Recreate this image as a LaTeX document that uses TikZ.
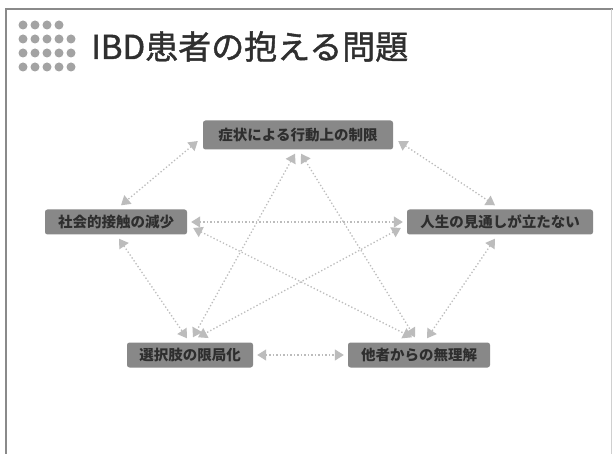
\documentclass[tikz,border=0pt]{standalone}
\usepackage{fontspec}
\newfontfamily\jp{Noto Sans CJK JP}
\newfontfamily\jptitle[FakeBold=1.3]{Noto Sans CJK JP}
\usetikzlibrary{arrows.meta,calc}
\definecolor{boxgray}{HTML}{888888}
\definecolor{txtgray}{HTML}{2E2E2E}
\definecolor{linegray}{HTML}{BCBCBC}
\definecolor{dotgray}{HTML}{A3A3A3}
\definecolor{titlegray}{HTML}{2F2F2F}
\definecolor{framegray}{HTML}{8A8A8A}
\begin{document}
\begin{tikzpicture}[x=1pt,y=-1pt,
  box/.style={draw=none, fill=boxgray, rounded corners=2.5pt, text=txtgray,
    font=\jp\bfseries\fontsize{14.5}{16}\selectfont, inner sep=0pt, minimum height=25pt},
  link/.style={draw=linegray, line width=1.3pt, dash pattern=on 1.3pt off 2.2pt,
    {Triangle[length=9pt,width=11pt]}-{Triangle[length=9pt,width=11pt]}},
  dotc/.style={fill=dotgray, draw=none}]
\useasboundingbox (0,0) rectangle (613,454);
\fill[white] (0,0) rectangle (613,454);
% frame
\draw[framegray, line width=1.5pt] (6,454) -- (6,9) -- (613,9);
\draw[framegray!40, line width=0.8pt] (611,9) -- (611,454);
% dots
\foreach \c in {0,1,2,3} \fill[dotc] (23+\c*12,25) circle (4.5);
\foreach \r in {1,2,3} \foreach \c in {0,1,2,3,4} \fill[dotc] (23+\c*12,25+\r*14) circle (4.5);
% title
\node[anchor=base west, font=\jptitle\fontsize{33}{36}\selectfont, text=titlegray, inner sep=0pt] (title) at (91,59) {IBD患者の抱える問題};
% boxes
\node[box, minimum width=190pt, minimum height=29pt] (T) at (298,135) {症状による行動上の制限};
\node[box, minimum width=142pt] (L) at (116,222) {社会的接触の減少};
\node[box, minimum width=186pt] (R) at (500,222) {人生の見通しが立たない};
\node[box, minimum width=126pt] (BL) at (190,355) {選択肢の限局化};
\node[box, minimum width=142pt] (BR) at (419,355) {他者からの無理解};
% links
\draw[link] ($(T.west)+(-5,6)$) -- ($(L.north)+(5,-4)$);
\draw[link] ($(T.east)+(5,6)$) -- ($(R.north)+(-5,-4)$);
\draw[link] ($(L.east)+(4,0)$) -- ($(R.west)+(-4,0)$);
\draw[link] ($(L.south)+(3,4)$) -- ($(BL.north)+(-3,-4)$);
\draw[link] ($(R.south)+(-5,4)$) -- ($(BR.north)+(8,-4)$);
\draw[link] ($(BL.east)+(4,0)$) -- ($(BR.west)+(-4,0)$);
\draw[link] ($(T.south)+(-3,4)$) -- ($(BL.north)+(3,-5)$);
\draw[link] ($(T.south)+(3,4)$) -- ($(BR.north)+(-4,-5)$);
\draw[link] ($(L.east)+(6,6)$) -- ($(BR.north)+(-7,-5)$);
\draw[link] ($(R.west)+(-6,6)$) -- ($(BL.north)+(8,-5)$);
\end{tikzpicture}
\end{document}
